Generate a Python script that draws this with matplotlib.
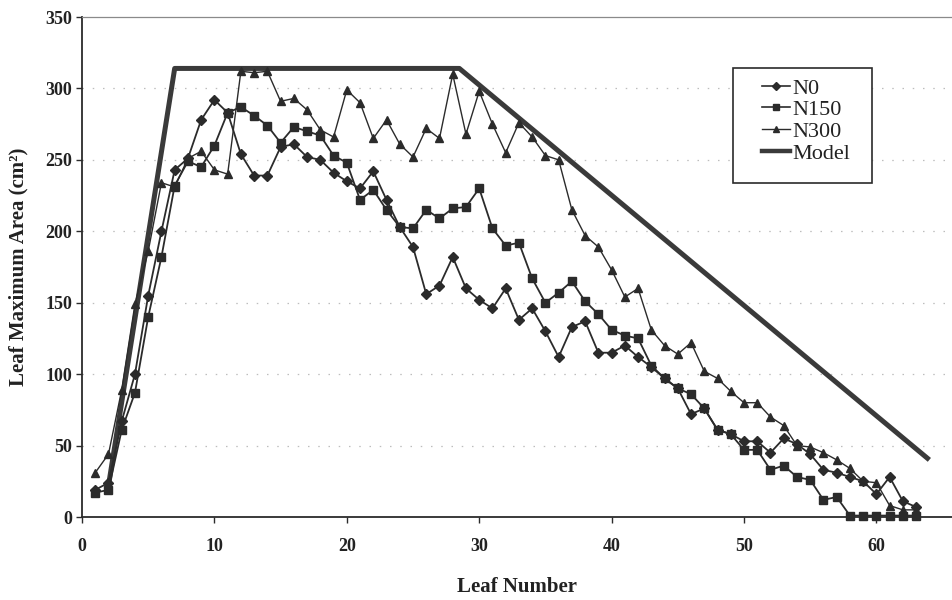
import matplotlib
matplotlib.use("Agg")
import matplotlib.pyplot as plt
from matplotlib.lines import Line2D
from matplotlib.patches import Rectangle
from matplotlib.font_manager import FontProperties

# Leaf number (1..63)
leaf = list(range(1, 64))

n0 = [19, 24, 67, 100, 155, 200, 243, 251, 278, 292,
      283, 254, 239, 239, 259, 261, 252, 250, 241, 235,
      230, 242, 222, 203, 189, 156, 162, 182, 160, 152,
      146, 160, 138, 146, 130, 112, 133, 137, 115, 115,
      120, 112, 105, 97, 90, 72, 76, 61, 58, 53,
      53, 45, 55, 51, 44, 33, 31, 28, 25, 16,
      28, 11, 7]

n150 = [17, 19, 61, 87, 140, 182, 232, 249, 245, 260,
        283, 287, 281, 274, 262, 273, 270, 267, 253, 248,
        222, 229, 215, 203, 202, 215, 209, 216, 217, 230,
        202, 190, 192, 167, 150, 157, 165, 151, 142, 131,
        127, 125, 106, 97, 90, 86, 76, 61, 58, 47,
        47, 33, 36, 28, 26, 12, 14, 1, 1, 1,
        1, 1, 1]

n300 = [31, 44, 89, 149, 186, 234, 231, 251, 256, 243,
        240, 312, 311, 312, 291, 293, 285, 271, 266, 299,
        290, 265, 278, 261, 252, 272, 265, 310, 268, 298,
        275, 255, 276, 266, 253, 250, 215, 197, 189, 173,
        154, 160, 131, 120, 114, 122, 102, 97, 88, 80,
        80, 70, 64, 50, 49, 45, 40, 34, 25, 24,
        8, 5, 5]

# Piecewise-linear model of leaf maximum area
model_x = [2, 7, 28.5, 64]
model_y = [22, 314, 314, 40]

x_ticks = [0, 10, 20, 30, 40, 50, 60]
y_ticks = [0, 50, 100, 150, 200, 250, 300, 350]

serif = ["Liberation Serif", "DejaVu Serif"]
plt.rcParams["font.family"] = serif
plt.rcParams["font.serif"] = serif

W, H = 953, 600
fig = plt.figure(figsize=(W / 100, H / 100), dpi=100)
ax = fig.add_axes([82 / W, 83 / H, (W - 82) / W, 500 / H])

ink = "#2b2b2b"

# faint dotted gridlines
for yv in y_ticks[1:-1]:
    ax.axhline(yv, color="#bdbdbd", lw=0.9, ls=(0, (1.2, 7)), zorder=0)

ax.plot(model_x, model_y, color="#3a3a3a", lw=3.6, solid_capstyle="butt",
        zorder=2, label="Model")
ax.plot(leaf, n0, color=ink, lw=1.3, marker="D", ms=5, mfc=ink, mec=ink,
        zorder=3, clip_on=False, label="N0")
ax.plot(leaf, n150, color=ink, lw=1.3, marker="s", ms=5.5, mfc=ink, mec=ink,
        zorder=3, clip_on=False, label="N150")
ax.plot(leaf, n300, color=ink, lw=1.0, marker="^", ms=5.5, mfc=ink, mec=ink,
        zorder=3, clip_on=False, label="N300")

ax.set_xlim(0, (W - 82) / 13.24)
ax.set_ylim(0, 350)
ax.set_xticks(x_ticks)
ax.set_yticks(y_ticks)

for side in ("left", "bottom"):
    ax.spines[side].set_color(ink)
    ax.spines[side].set_linewidth(1.3)
ax.spines["top"].set_color("#8a8a8a")
ax.spines["top"].set_linewidth(0.9)
ax.spines["right"].set_visible(False)

ax.tick_params(axis="x", direction="out", length=4, width=1, color=ink,
               pad=11, labelsize=13)
ax.tick_params(axis="y", direction="out", length=4, width=1, color=ink,
               pad=3, labelsize=13)
for lab in ax.get_xticklabels() + ax.get_yticklabels():
    lab.set_fontweight("bold")
    lab.set_color("#222222")

ax.set_xlabel("Leaf Number", fontsize=15, fontweight="bold", color="#222222",
              labelpad=16)
ax.set_ylabel("Leaf Maximum Area (cm²)", fontsize=15, fontweight="bold",
              color="#222222", labelpad=12)

# legend box drawn separately so its padding can be set freely
fig.patches.append(Rectangle((733 / W, 1 - 183 / H), (872 - 733) / W,
                             (183 - 68) / H, transform=fig.transFigure,
                             facecolor="white", edgecolor=ink, lw=1.2,
                             zorder=4))

handles = [
    Line2D([], [], color=ink, lw=1.2, marker="D", ms=4, mfc=ink, mec=ink),
    Line2D([], [], color=ink, lw=1.2, marker="s", ms=4.5, mfc=ink, mec=ink),
    Line2D([], [], color=ink, lw=1.0, marker="^", ms=4.5, mfc=ink, mec=ink),
    Line2D([], [], color="#3a3a3a", lw=3.2),
]
leg_font = FontProperties(family="Liberation Serif", size=16)
leg = fig.legend(handles, ["N0", "N150", "N300", "Model"],
                 loc="upper left", bbox_to_anchor=(762 / W, 1 - 78 / H),
                 frameon=False, prop=leg_font,
                 handlelength=1.25, handletextpad=0.1,
                 labelspacing=0.05, borderpad=0, borderaxespad=0,
                 numpoints=1)
leg.set_zorder(5)
for t in leg.get_texts():
    t.set_color("#222222")
    t.set_fontproperties(leg_font)

fig.savefig("out.png", dpi=100)
